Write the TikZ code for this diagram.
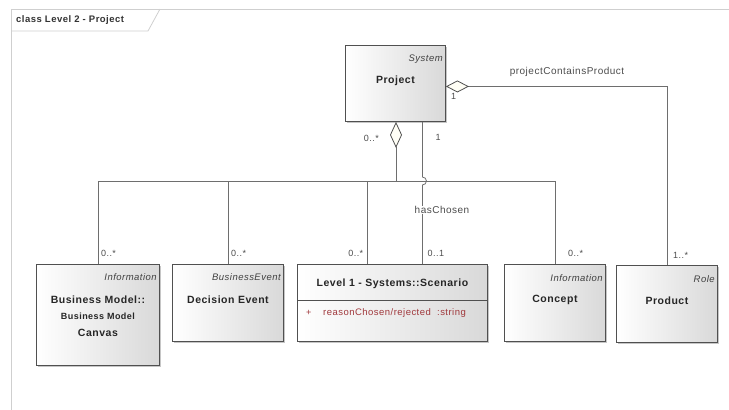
\documentclass[tikz,border=0pt]{standalone}
\usepackage{fontspec}
\setmainfont{Liberation Sans}[LetterSpace=5]
\usetikzlibrary{arrows.meta,shadows,positioning}
\definecolor{umlline}{HTML}{6E6E6E}
\definecolor{umlbox}{HTML}{505050}
\definecolor{umlattr}{HTML}{A0383C}
\definecolor{umlframe}{HTML}{CFCFCF}

\begin{document}
\begin{tikzpicture}[x=1pt,y=-1pt]
\useasboundingbox (0,0) rectangle (729,410);

\begin{scope}[classbox/.style={draw=umlbox,line width=0.9pt,anchor=north west,inner sep=0,left color=white,middle color=white,right color=gray!30,drop shadow={shadow xshift=2pt,shadow yshift=-2pt,fill=gray,opacity=.45}},stereo/.style={font=\fontsize{9.5}{11}\selectfont\itshape,text=black!75,inner sep=0,anchor=east},classname/.style={font=\fontsize{10.5}{12}\selectfont\bfseries,text=black!85,inner sep=0},mult/.style={font=\fontsize{9}{10}\selectfont,text=black!70,inner sep=1pt},conn/.style={draw=umlline,line width=0.8pt},agg/.style={conn,{Diamond[fill=yellow!4,color=umlbox,length=26pt,width=12pt,line width=0.8pt]}-}]
% frame
\draw[umlframe,line width=0.8pt] (11,410) -- (11,9) -- (729,9);
\draw[umlframe,line width=0.8pt] (11,31) -- (148,31) -- (160,9);
\node[anchor=west,font=\fontsize{9.5}{11}\selectfont\bfseries,text=black!80,inner sep=0] (tab) at (16,20) {class Level 2 - Project};

% Nodes
\node[classbox,minimum width=100,minimum height=76] (project) at (345,45) {};
\node[stereo] at ([xshift=-3pt,yshift=-14pt]project.north east) {System};
\node[classname] (projectname) at ([yshift=-36pt]project.north) {Project};

\node[classbox,minimum width=123,minimum height=101] (canvas) at (36,264) {};
\node[stereo] at ([xshift=-3pt,yshift=-13pt]canvas.north east) {Information};
\node[classname] (bm1) at ([yshift=-36pt]canvas.north) {Business Model::};
\node[classname,font=\fontsize{9}{10}\selectfont\bfseries] (bm2) at ([yshift=-52pt]canvas.north) {Business Model};
\node[classname] (bm3) at ([yshift=-69pt]canvas.north) {Canvas};

\node[classbox,minimum width=111,minimum height=77] (decision) at (172,264) {};
\node[stereo] at ([xshift=-3pt,yshift=-13pt]decision.north east) {BusinessEvent};
\node[classname] (decisionname) at ([yshift=-36pt]decision.north) {Decision Event};

\node[classbox,minimum width=190,minimum height=77] (scenario) at (297,264) {};
\node[classname] (scenarioname) at ([yshift=-20pt]scenario.north) {Level 1 - Systems::Scenario};
\draw[umlbox,line width=0.8pt] ([yshift=-36pt]scenario.north west) -- ([yshift=-36pt]scenario.north east);
\node[mult,text=umlattr,anchor=west] (attrsign) at ([xshift=8pt,yshift=-49pt]scenario.north west) {+};
\node[mult,font=\fontsize{9.5}{11}\selectfont,text=umlattr,anchor=west] (attr) at ([xshift=25pt,yshift=-49pt]scenario.north west) {reasonChosen/rejected\ \ :string};

\node[classbox,minimum width=101,minimum height=77] (concept) at (504,264) {};
\node[stereo] at ([xshift=-3pt,yshift=-14pt]concept.north east) {Information};
\node[classname] (conceptname) at ([yshift=-36pt]concept.north) {Concept};

\node[classbox,minimum width=101,minimum height=77] (product) at (616,265) {};
\node[stereo] at ([xshift=-3pt,yshift=-14pt]product.north east) {Role};
\node[classname] (productname) at ([yshift=-36pt]product.north) {Product};

\coordinate (hub) at (396,181);
\coordinate (chosen) at ([xshift=27pt]project.south);
\coordinate (scnin) at ([xshift=-25pt]scenario.north);
\coordinate (pcp) at ([yshift=-3pt]project.east);

%arcs
\path (project.south -| hub) edge[agg] (hub);
\draw[conn] (canvas.north |- hub) -- (concept.north |- hub);
\path (canvas.north |- hub) edge[conn] (canvas.north);
\path (decision.north |- hub) edge[conn] (decision.north);
\path (scnin |- hub) edge[conn] (scnin);
\path (concept.north |- hub) edge[conn] (concept.north);
\draw[conn] (chosen) -- (chosen |- 0,177) arc[start angle=-90,end angle=90,radius=4] -- (chosen |- scenario.north);
\draw[conn,{Diamond[fill=yellow!4,color=umlbox,length=23pt,width=12pt,line width=0.8pt]}-] (pcp) -| (product.north);

% labels
\node[mult,anchor=east] at ([xshift=-16pt,yshift=-16pt]project.south -| hub) {0..*};
\node[mult,anchor=west] at ([xshift=12pt,yshift=-16pt]chosen) {1};
\node[mult,anchor=north west] at ([xshift=4pt,yshift=-6pt]pcp) {1};
\node[mult,font=\fontsize{10}{11}\selectfont] at (567,72) {projectContainsProduct};
\node[mult,font=\fontsize{10}{11}\selectfont,fill=white,inner sep=0] at (442,210) {hasChosen};
\node[mult,anchor=south west] at ([xshift=2pt,yshift=6pt]canvas.north) {0..*};
\node[mult,anchor=south west] at ([xshift=2pt,yshift=6pt]decision.north) {0..*};
\node[mult,anchor=south east] at ([xshift=-3pt,yshift=6pt]scnin) {0..*};
\node[mult,anchor=south west] at ([xshift=4pt,yshift=6pt]chosen |- scenario.north) {0..1};
\node[mult,anchor=south west] at ([xshift=12pt,yshift=6pt]concept.north) {0..*};
\node[mult,anchor=south west] at ([xshift=5pt,yshift=5pt]product.north) {1..*};
\end{scope}
\end{tikzpicture}
\end{document}
